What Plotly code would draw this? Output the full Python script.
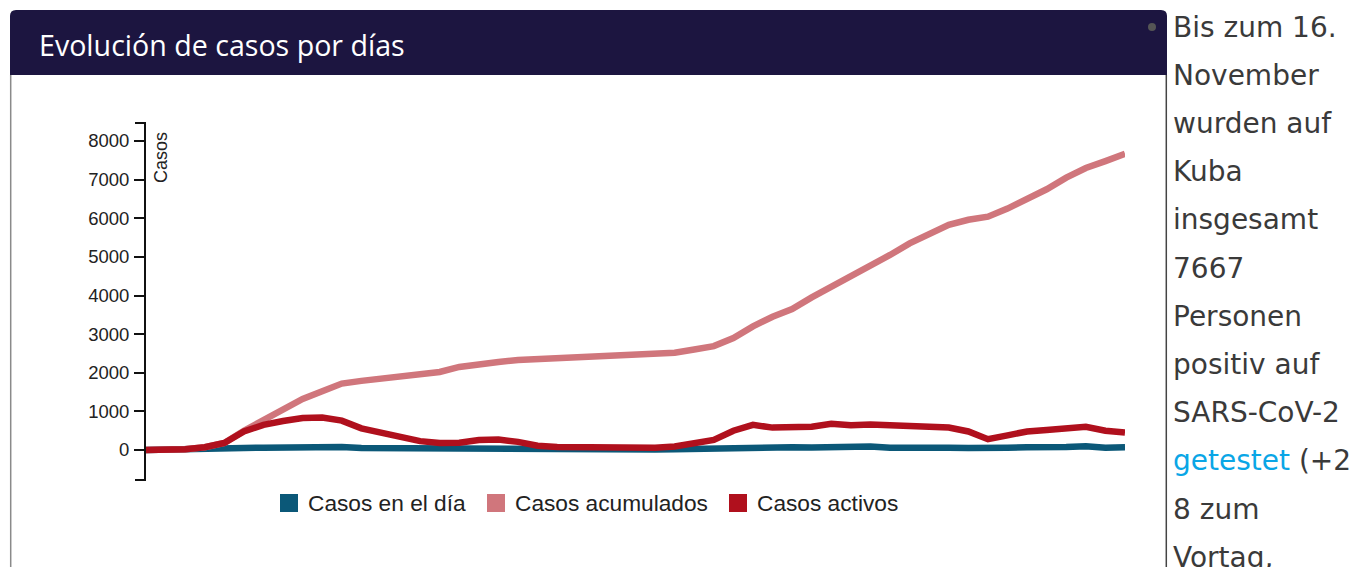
import plotly.graph_objects as go

W, H = 1365, 567

# ---- data, one point every 5 days ----
days = list(range(0, 255, 5))
casos_dia = [0, 2, 5, 15, 35, 50, 60, 70, 65, 70, 80, 55, 50, 45, 50, 40, 50, 55, 45, 40,
             30, 15, 20, 10, 15, 15, 10, 20, 30, 45, 60, 80, 60, 70, 65, 80, 70, 90, 60, 70,
             80, 60, 55, 40, 60, 70, 65, 80, 100, 60, 70]
casos_acumulados = [0, 5, 20, 70, 180, 500, 780, 1050, 1320, 1520, 1720, 1790, 1840, 1900, 1960,
                    2020, 2150, 2230, 2280, 2330, 2350, 2370, 2390, 2420, 2440, 2470, 2490, 2520,
                    2600, 2690, 2900, 3200, 3450, 3650, 3950, 4220, 4500, 4780, 5050, 5350, 5600,
                    5830, 5960, 6040, 6250, 6500, 6750, 7050, 7300, 7480, 7667]
casos_activos = [0, 5, 20, 70, 180, 480, 650, 750, 830, 840, 760, 560, 450, 330, 230, 180, 190,
                 260, 270, 210, 110, 80, 70, 70, 80, 70, 60, 90, 180, 260, 500, 650, 580, 600, 600,
                 680, 640, 660, 640, 620, 600, 580, 480, 280, 380, 480, 520, 560, 600, 500, 450]

series_names = ["Casos en el día", "Casos acumulados", "Casos activos"]
series_colors = ["#0b5878", "#d0767c", "#b0101d"]
y_ticks = [0, 1000, 2000, 3000, 4000, 5000, 6000, 7000, 8000]
title_text = "Evolución de casos por días"
y_label = "Casos"
side_lines = ["Bis zum 16.", "November", "wurden auf", "Kuba", "insgesamt", "7667",
              "Personen", "positiv auf", "SARS-CoV-2",
              "<span style='color:#0aa6e6'>getestet</span> (+2", "8 zum", "Vortag,"]


def px(x):
    return x / W


def py(y):
    return 1 - y / H


fig = go.Figure()
for name, vals, col in zip(series_names, [casos_dia, casos_acumulados, casos_activos], series_colors):
    fig.add_trace(go.Scatter(x=days, y=vals, mode="lines", name=name,
                             line=dict(color=col, width=6.5, shape="linear"),
                             showlegend=False, hoverinfo="skip"))

# y axis geometry: 0 at y=450 px, 8000 at y=141 px, axis line 123..480 px
scale = (450 - 141) / 8000.0
y_top_px, y_bot_px = 123, 480
y_max = (450 - y_top_px) / scale
y_min = (450 - y_bot_px) / scale

fig.update_layout(
    width=W, height=H, autosize=False,
    margin=dict(l=0, r=0, t=0, b=0, pad=0),
    paper_bgcolor="white", plot_bgcolor="rgba(0,0,0,0)",
    showlegend=False,
    xaxis=dict(domain=[px(146), px(1125)], range=[0, 250], visible=False, fixedrange=True),
    yaxis=dict(domain=[py(y_bot_px), py(y_top_px)], range=[y_min, y_max],
               tickvals=y_ticks, ticktext=[str(v) for v in y_ticks],
               showgrid=False, zeroline=False, showline=True, linecolor="#111", linewidth=2,
               ticks="outside", ticklen=10, tickwidth=2, tickcolor="#111",
               tickfont=dict(family="Liberation Sans, Arial", size=18.5, color="#222"),
               ticklabelstandoff=1, fixedrange=True),
)

shapes = []
# header with rounded top corners
r = 6
hx0, hx1, hy0, hy1 = 10, 1167, 10, 75
path = (f"M {px(hx0)},{py(hy1)} L {px(hx0)},{py(hy0 + r)} "
        f"Q {px(hx0)},{py(hy0)} {px(hx0 + r)},{py(hy0)} "
        f"L {px(hx1 - r)},{py(hy0)} Q {px(hx1)},{py(hy0)} {px(hx1)},{py(hy0 + r)} "
        f"L {px(hx1)},{py(hy1)} Z")
shapes.append(dict(type="path", xref="paper", yref="paper", path=path,
                   fillcolor="#1c1540", line=dict(width=0)))
# panel borders
shapes.append(dict(type="line", xref="paper", yref="paper", x0=px(10.7), x1=px(10.7),
                   y0=py(75), y1=py(567), line=dict(color="#8a8a8a", width=1.5)))
shapes.append(dict(type="line", xref="paper", yref="paper", x0=px(1166.3), x1=px(1166.3),
                   y0=py(75), y1=py(567), line=dict(color="#444", width=1.5)))
# bullet
shapes.append(dict(type="circle", xref="paper", yref="paper", x0=px(1148), x1=px(1156),
                   y0=py(31), y1=py(23), fillcolor="#555", line=dict(width=0)))
# axis outer end ticks
for yy in (y_top_px, y_bot_px):
    shapes.append(dict(type="line", xref="paper", yref="paper", x0=px(135), x1=px(146),
                       y0=py(yy), y1=py(yy), line=dict(color="#111", width=2)))
# legend squares
leg_sq_x = [280, 487, 729]
leg_tx_x = [306, 513, 755]
for sx, col in zip(leg_sq_x, series_colors):
    shapes.append(dict(type="rect", xref="paper", yref="paper", x0=px(sx), x1=px(sx + 18),
                       y0=py(512), y1=py(494), fillcolor=col, line=dict(width=0)))
fig.update_layout(shapes=shapes)

ann = []
ann.append(dict(text=title_text, x=px(37), y=py(44), xref="paper", yref="paper",
                xanchor="left", yanchor="middle", showarrow=False,
                font=dict(family="Open Sans", size=28.6, color="white")))
ann.append(dict(text=y_label, x=px(161), y=py(158), xref="paper", yref="paper",
                xanchor="center", yanchor="middle", showarrow=False, textangle=-90,
                font=dict(family="Liberation Sans, Arial", size=18, color="#222")))
for tx, name in zip(leg_tx_x, series_names):
    ann.append(dict(text=name, x=px(tx), y=py(503), xref="paper", yref="paper",
                    xanchor="left", yanchor="middle", showarrow=False,
                    font=dict(family="Liberation Sans, Arial", size=22.7, color="#222")))
for i, line in enumerate(side_lines):
    ann.append(dict(text=line, x=px(1171), y=py(27 + 48.2 * i), xref="paper", yref="paper",
                    xanchor="left", yanchor="middle", showarrow=False,
                    font=dict(family="DejaVu Sans", size=28, color="#3a3a3a")))
fig.update_layout(annotations=ann)

fig.write_html("out.html", config={"displayModeBar": False},
               post_script="document.body.style.margin='0px';document.body.style.overflow='hidden';")
